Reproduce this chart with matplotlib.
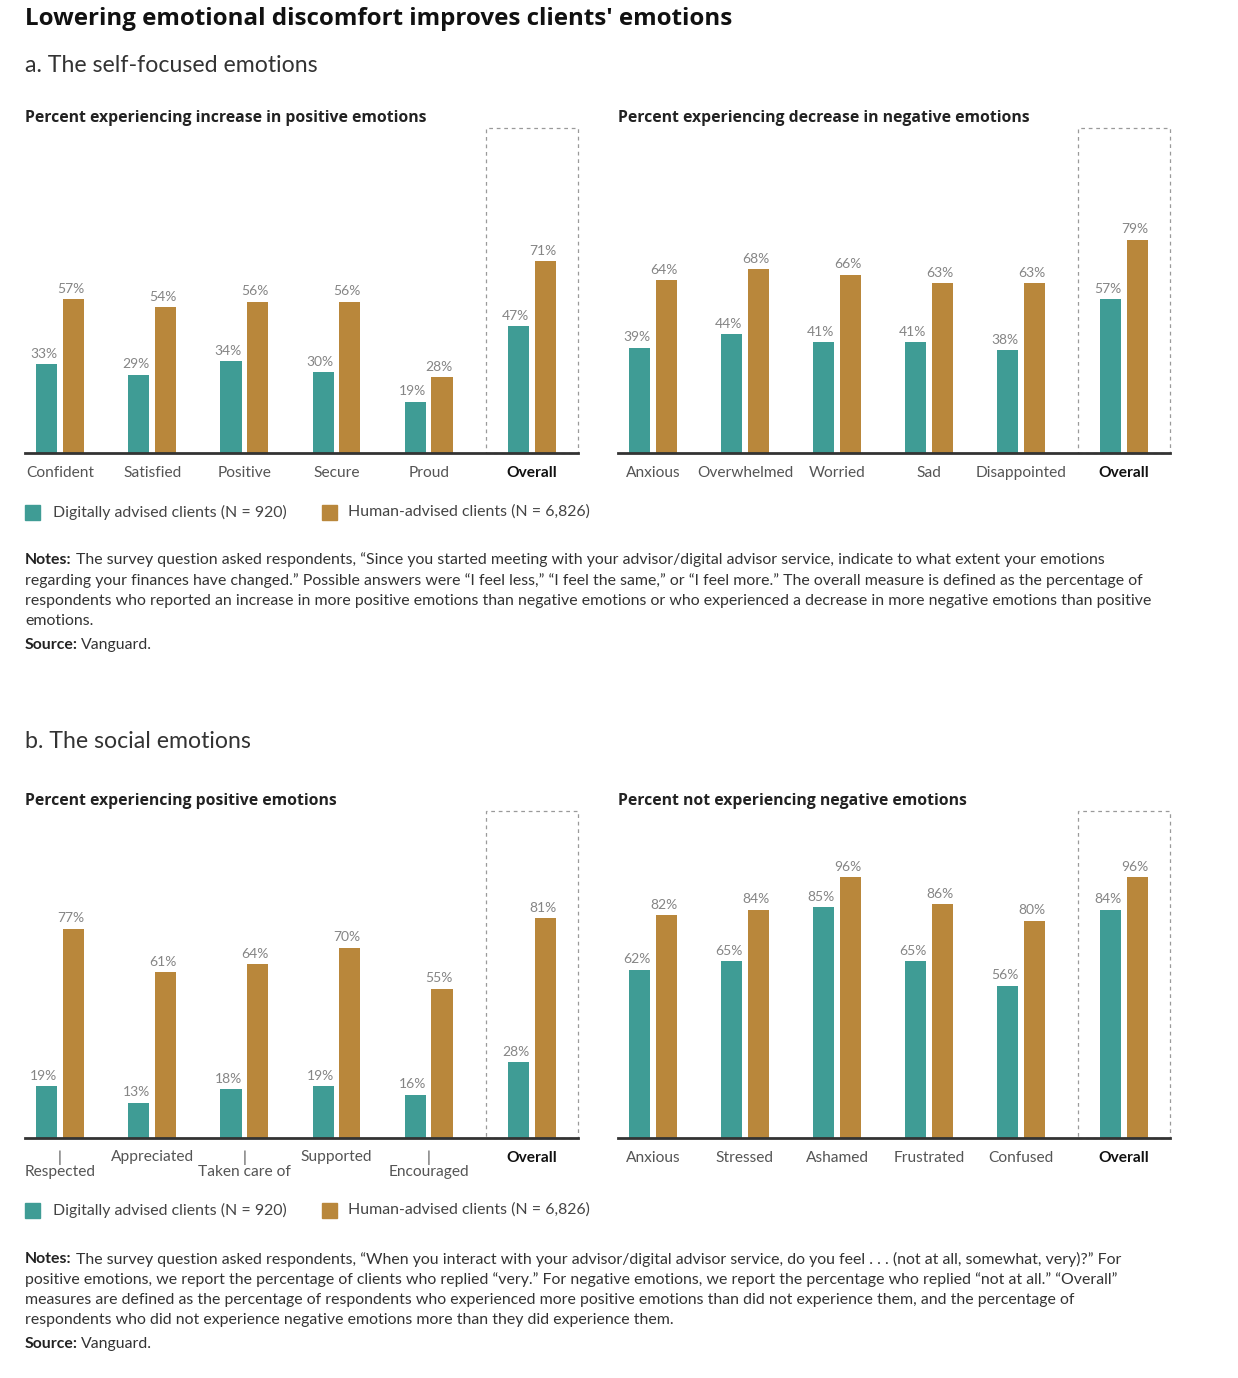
import matplotlib.pyplot as plt
from matplotlib.patches import Rectangle
import numpy as np

plt.rcParams['font.family'] = ['Lato', 'DejaVu Sans']

# --- data ---
self_pos_cats = ['Confident', 'Satisfied', 'Positive', 'Secure', 'Proud', 'Overall']
self_pos_digital = [33, 29, 34, 30, 19, 47]
self_pos_human = [57, 54, 56, 56, 28, 71]

self_neg_cats = ['Anxious', 'Overwhelmed', 'Worried', 'Sad', 'Disappointed', 'Overall']
self_neg_digital = [39, 44, 41, 41, 38, 57]
self_neg_human = [64, 68, 66, 63, 63, 79]

soc_pos_cats = ['|\nRespected', 'Appreciated', '|\nTaken care of', 'Supported', '|\nEncouraged', 'Overall']
soc_pos_digital = [19, 13, 18, 19, 16, 28]
soc_pos_human = [77, 61, 64, 70, 55, 81]

soc_neg_cats = ['Anxious', 'Stressed', 'Ashamed', 'Frustrated', 'Confused', 'Overall']
soc_neg_digital = [62, 65, 85, 65, 56, 84]
soc_neg_human = [82, 84, 96, 86, 80, 96]

legend_labels = ['Digitally advised clients (N = 920)', 'Human-advised clients (N = 6,826)']

TEAL = '#3f9c95'
GOLD = '#b9873b'

W, H = 1238, 1378
fig = plt.figure(figsize=(W / 100, H / 100), dpi=100)
fig.patch.set_facecolor('white')


def px_axes(x0, y0, x1, y1):
    return fig.add_axes([x0 / W, 1 - y1 / H, (x1 - x0) / W, (y1 - y0) / H])


def ftext(x, y, s, **kw):
    return fig.text(x / W, 1 - y / H, s, **kw)


xpos = np.array([0, 1, 2, 3, 4, 5.12])
bw = 0.23
off = 0.145


def bar_panel(ax, cats, dig, hum, title):
    ax.bar(xpos - off, dig, bw, color=TEAL)
    ax.bar(xpos + off, hum, bw, color=GOLD)
    for x, v in zip(xpos - off, dig):
        ax.text(x - 0.03, v + 1.6, f'{v}%', ha='center', va='bottom', fontsize=10, color='#858585')
    for x, v in zip(xpos + off, hum):
        ax.text(x - 0.03, v + 1.6, f'{v}%', ha='center', va='bottom', fontsize=10, color='#858585')
    ax.set_xlim(-0.38, 5.62)
    ax.set_ylim(0, 120.7)
    ax.set_xticks(xpos)
    ax.set_xticklabels(cats, fontsize=11.2, color='#555555', linespacing=1.0)
    ax.tick_params(axis='x', length=0, pad=9)
    ax.get_xticklabels()[-1].set_fontweight('bold')
    ax.get_xticklabels()[-1].set_color('#111111')
    ax.set_yticks([])
    for s in ['top', 'right', 'left']:
        ax.spines[s].set_visible(False)
    ax.spines['bottom'].set_linewidth(2)
    ax.spines['bottom'].set_color('#333333')
    ax.add_patch(Rectangle((4.62, 0), 0.995, 120.5, fill=False, ls=(0, (3, 3)),
                           lw=0.9, edgecolor='#9a9a9a', clip_on=False))
    ax.text(0, 1.0 + 1 / 326, title, transform=ax.transAxes, fontsize=11.3,
            fontweight='bold', color='#222222', va='bottom', ha='left',
            family=['Open Sans', 'DejaVu Sans'])


ax1 = px_axes(25, 127, 578, 453)
bar_panel(ax1, self_pos_cats, self_pos_digital, self_pos_human,
          'Percent experiencing increase in positive emotions')
ax2 = px_axes(618, 127, 1170, 453)
bar_panel(ax2, self_neg_cats, self_neg_digital, self_neg_human,
          'Percent experiencing decrease in negative emotions')
ax3 = px_axes(25, 810, 578, 1138)
bar_panel(ax3, soc_pos_cats, soc_pos_digital, soc_pos_human,
          'Percent experiencing positive emotions')
ax4 = px_axes(618, 810, 1170, 1138)
bar_panel(ax4, soc_neg_cats, soc_neg_digital, soc_neg_human,
          'Percent not experiencing negative emotions')

# headings
ftext(25, 19, "Lowering emotional discomfort improves clients' emotions",
      fontsize=17.4, fontweight='bold', color='#111111', va='center',
      family=['Open Sans', 'DejaVu Sans'])
ftext(25, 65, 'a. The self-focused emotions', fontsize=16.7, color='#333333', va='center')
ftext(25, 741, 'b. The social emotions', fontsize=16.7, color='#333333', va='center')


def legend_row(y):
    for x, col, lab, tx in [(25, TEAL, legend_labels[0], 53), (322, GOLD, legend_labels[1], 348)]:
        fig.patches.append(Rectangle((x / W, 1 - (y + 7.5) / H), 15 / W, 15 / H,
                                     transform=fig.transFigure, color=col))
        ftext(tx, y, lab, fontsize=11.4, color='#444444', va='center')


legend_row(512)
legend_row(1210)

fig.canvas.draw()
renderer = fig.canvas.get_renderer()
NFS = 11.45


def note_lines(y0, lines, dy=20.3):
    for i, line in enumerate(lines):
        y = y0 + i * dy
        if line.startswith('Notes:'):
            t = ftext(25, y, 'Notes:', fontsize=NFS, fontweight='bold', color='#222222', va='center')
            w = t.get_window_extent(renderer).width
            ftext(25 + w + 4, y, line[len('Notes:'):].strip(), fontsize=NFS, color='#333333', va='center')
        else:
            ftext(25, y, line, fontsize=NFS, color='#333333', va='center')


def source_line(y):
    t = ftext(25, y, 'Source:', fontsize=NFS, fontweight='bold', color='#222222', va='center')
    w = t.get_window_extent(renderer).width
    ftext(25 + w + 3, y, 'Vanguard.', fontsize=NFS, color='#333333', va='center')


note_lines(560, [
    'Notes: The survey question asked respondents, \u201cSince you started meeting with your advisor/digital advisor service, indicate to what extent your emotions',
    'regarding your finances have changed.\u201d Possible answers were \u201cI feel less,\u201d \u201cI feel the same,\u201d or \u201cI feel more.\u201d The overall measure is defined as the percentage of',
    'respondents who reported an increase in more positive emotions than negative emotions or who experienced a decrease in more negative emotions than positive',
    'emotions.',
])
source_line(645)

note_lines(1259, [
    'Notes: The survey question asked respondents, \u201cWhen you interact with your advisor/digital advisor service, do you feel . . . (not at all, somewhat, very)?\u201d For',
    'positive emotions, we report the percentage of clients who replied \u201cvery.\u201d For negative emotions, we report the percentage who replied \u201cnot at all.\u201d \u201cOverall\u201d',
    'measures are defined as the percentage of respondents who experienced more positive emotions than did not experience them, and the percentage of',
    'respondents who did not experience negative emotions more than they did experience them.',
])
source_line(1344)

fig.savefig('out.png', dpi=100, facecolor='white')
